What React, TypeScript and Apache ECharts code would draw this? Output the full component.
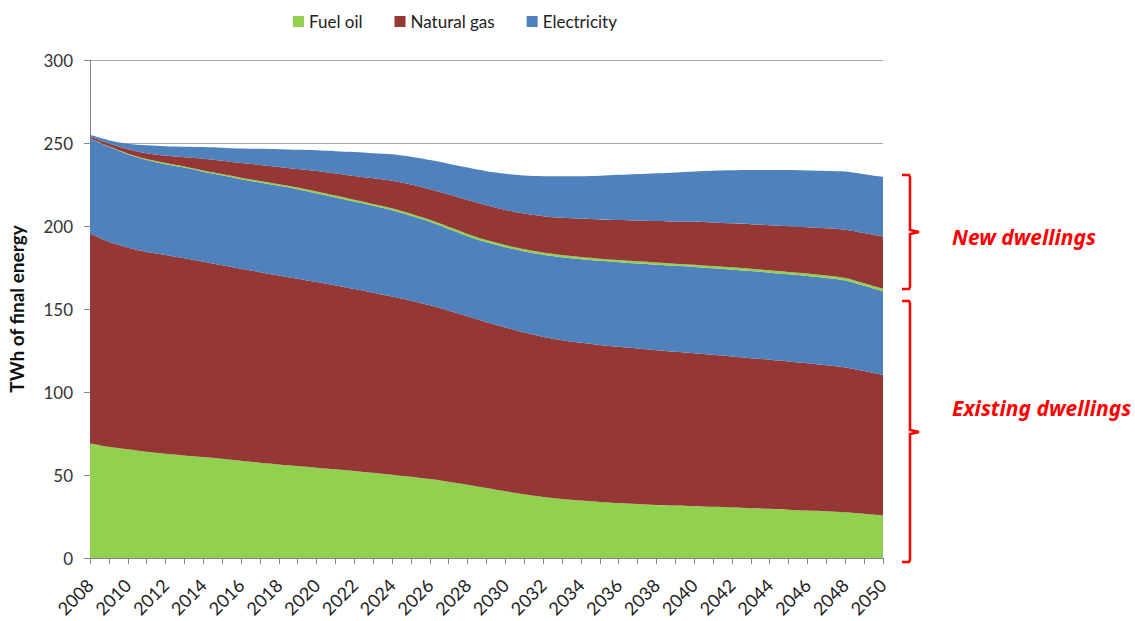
import React, { useEffect, useRef } from "react";
import * as echarts from "echarts";

const years: string[] = [
  "2008","2009","2010","2011","2012","2013","2014","2015","2016","2017",
  "2018","2019","2020","2021","2022","2023","2024","2025","2026","2027",
  "2028","2029","2030","2031","2032","2033","2034","2035","2036","2037",
  "2038","2039","2040","2041","2042","2043","2044","2045","2046","2047",
  "2048","2049","2050",
];

// Existing dwellings (TWh)
const existingFuelOil: number[] = [
  69, 67, 65.5, 64, 62.8, 61.8, 60.8, 59.8, 58.6, 57.4,
  56.4, 55.4, 54.4, 53.4, 52.4, 51.3, 50.2, 49, 47.6, 46,
  44.2, 42.2, 40.2, 38.4, 36.8, 35.6, 34.6, 33.8, 33.1, 32.5,
  32, 31.6, 31.2, 30.8, 30.4, 30, 29.6, 29.1, 28.6, 28.1,
  27.5, 26.6, 25.5,
];
const existingGas: number[] = [
  126.5, 123.5, 121.5, 120.3, 119.7, 118.7, 117.7, 116.5, 115.6, 114.8,
  113.8, 112.8, 111.8, 110.8, 109.6, 108.5, 107.3, 106, 104.6, 103,
  101.4, 99.8, 98.6, 97.4, 96.4, 95.6, 95, 94.5, 94.1, 93.7,
  93.2, 92.7, 92.2, 91.6, 91, 90.4, 89.8, 89.3, 88.7, 88,
  87.3, 86, 84.7,
];
const existingElectricity: number[] = [
  57.2, 57.2, 56.2, 55.4, 54.7, 54.7, 54.2, 54.2, 54, 54,
  54, 54, 53.5, 53, 52.7, 52.4, 52, 51.2, 50.3, 49.2,
  48.3, 48.2, 48.4, 48.9, 49.5, 50, 50.4, 50.7, 51, 51.2,
  51.5, 51.7, 51.9, 52.1, 52.3, 52.5, 52.5, 52.5, 52.6, 52.6,
  52.4, 51.4, 50.5,
];

// New dwellings (TWh)
const newFuelOil: number[] = [
  0.2, 0.3, 0.5, 0.6, 0.7, 0.7, 0.8, 0.8, 0.9, 0.9,
  1.0, 1.0, 1.1, 1.1, 1.1, 1.1, 1.2, 1.2, 1.2, 1.3,
  1.3, 1.3, 1.3, 1.3, 1.3, 1.3, 1.3, 1.3, 1.3, 1.3,
  1.3, 1.3, 1.4, 1.4, 1.4, 1.4, 1.4, 1.4, 1.5, 1.5,
  1.5, 1.5, 1.5,
];
const newGas: number[] = [
  0.8, 1.7, 2.6, 3.6, 4.5, 5.5, 7.0, 8.0, 8.8, 9.7,
  10.4, 11.1, 12.3, 13.3, 14.3, 15.4, 16.5, 17.6, 18.5, 19.5,
  20.5, 21.0, 21.2, 21.5, 21.9, 22.4, 23.0, 23.6, 24.1, 24.6,
  25.0, 25.4, 25.8, 26.2, 26.5, 26.8, 27.2, 27.6, 27.9, 28.4,
  29.1, 30.3, 31.5,
];
const newElectricity: number[] = [
  1.2, 2, 3.3, 4.8, 5.7, 6.4, 7.1, 7.9, 8.8, 9.7,
  10.6, 11.6, 12.5, 13.5, 14.5, 15.2, 16, 16.7, 17.5, 18.5,
  19.5, 20.5, 21.8, 22.9, 24.1, 25, 25.7, 26.4, 27.2, 28,
  28.8, 29.6, 30.4, 31.2, 32, 32.7, 33.3, 33.8, 34.2, 34.6,
  35, 35.3, 35.8,
];

const legendNames: string[] = ["Fuel oil", "Natural gas", "Electricity"];
const yTicks = { min: 0, max: 300, interval: 50 };

const GREEN = "#92D050";
const RED = "#953735";
const BLUE = "#4F81BD";
const FONT = "Lato, 'Noto Sans', sans-serif";

function area(name: string, data: number[], color: string) {
  return {
    name,
    type: "line",
    stack: "total",
    data,
    showSymbol: false,
    symbol: "none",
    smooth: 0.3,
    lineStyle: { width: 0, color },
    itemStyle: { color },
    areaStyle: { color, opacity: 1 },
    emphasis: { disabled: true },
  };
}

export default function App() {
  const ref = useRef<HTMLDivElement>(null);
  useEffect(() => {
    if (!ref.current) return;
    const chart = echarts.init(ref.current, undefined, { renderer: "svg" });
    const braceStyle = { stroke: "#FF0000", lineWidth: 2.5, fill: "none" };
    const noteStyle = {
      fill: "#FF0000",
      font: "italic bold 21px 'Noto Sans', Lato, sans-serif",
      textVerticalAlign: "middle",
      shadowColor: "rgba(120,0,0,0.5)",
      shadowOffsetX: 1,
      shadowOffsetY: 1,
      shadowBlur: 1,
    };
    chart.setOption({
      animation: false,
      backgroundColor: "#ffffff",
      textStyle: { fontFamily: FONT },
      legend: {
        data: legendNames,
        left: 288,
        top: 8,
        itemWidth: 11,
        itemHeight: 11,
        itemGap: 32,
        icon: "rect",
        textStyle: { fontSize: 17, color: "#222", fontFamily: FONT },
      },
      grid: { left: 90, right: 252, top: 60, bottom: 63, containLabel: false, outerBoundsMode: "none" },
      xAxis: {
        type: "category",
        data: years,
        boundaryGap: false,
        axisLine: { lineStyle: { color: "#868686", width: 1 } },
        axisTick: { show: true, interval: 0, length: 6, lineStyle: { color: "#868686" } },
        axisLabel: {
          interval: 1,
          rotate: 45,
          fontSize: 18,
          color: "#222",
          fontFamily: FONT,
          margin: 24,
        },
        splitLine: { show: false },
      },
      yAxis: {
        type: "value",
        min: yTicks.min,
        max: yTicks.max,
        interval: yTicks.interval,
        name: "TWh of final energy",
        nameLocation: "middle",
        nameGap: 64,
        nameTextStyle: { fontSize: 19, fontWeight: "bold", color: "#111", fontFamily: FONT },
        axisLine: { show: true, lineStyle: { color: "#868686" } },
        axisTick: { show: true, length: 6, lineStyle: { color: "#868686" } },
        axisLabel: { fontSize: 17, color: "#333", fontFamily: FONT, margin: 17 },
        splitLine: { show: true, lineStyle: { color: "#A6A6A6", width: 1 } },
      },
      series: [
        area("Fuel oil", existingFuelOil, GREEN),
        area("Natural gas", existingGas, RED),
        area("Electricity", existingElectricity, BLUE),
        area("Fuel oil", newFuelOil, GREEN),
        area("Natural gas", newGas, RED),
        area("Electricity", newElectricity, BLUE),
      ],
      graphic: [
        {
          type: "polyline",
          shape: { points: [[902, 175], [909, 175], [910, 177], [910, 230], [919, 232], [910, 234], [910, 287], [909, 289], [902, 289]] },
          style: braceStyle,
        },
        {
          type: "polyline",
          shape: { points: [[902, 301], [909, 301], [910, 303], [910, 430], [919, 432], [910, 434], [910, 560], [909, 562], [902, 562]] },
          style: braceStyle,
        },
        { type: "text", x: 952, y: 237, style: { ...noteStyle, text: "New dwellings" } },
        { type: "text", x: 952, y: 408, style: { ...noteStyle, text: "Existing dwellings" } },
      ],
    });
    return () => chart.dispose();
  }, []);
  return (
    <div
      ref={ref}
      style={{ position: "fixed", left: 0, top: 0, width: 1135, height: 621, background: "#fff" }}
    />
  );
}
